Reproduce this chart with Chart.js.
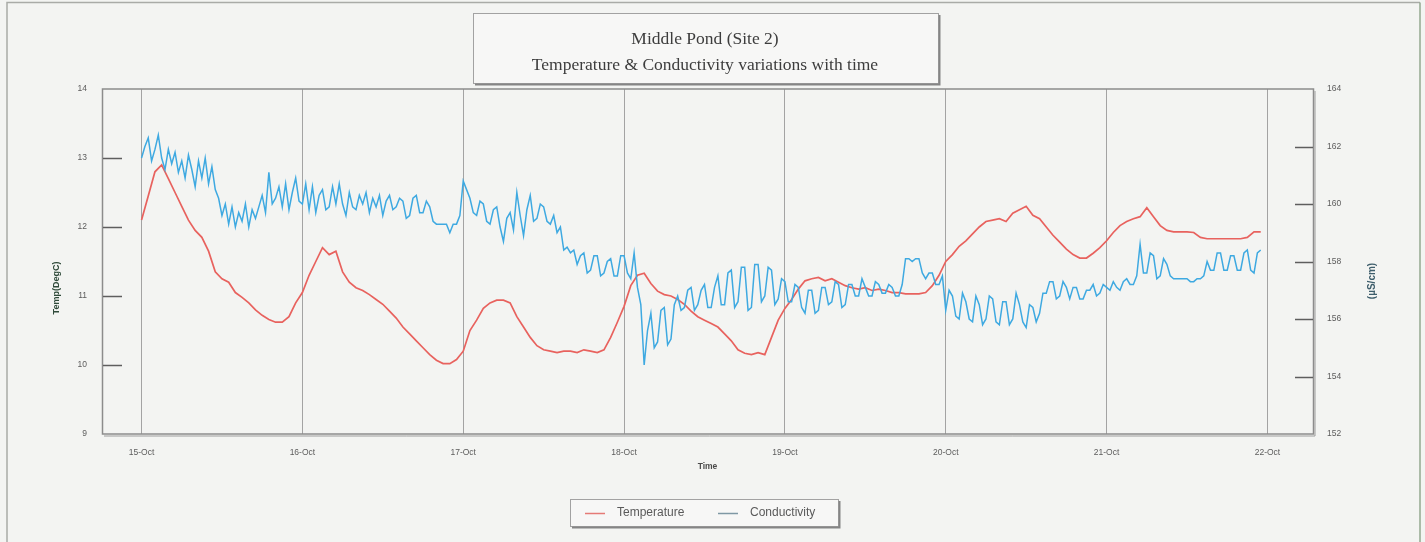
<!DOCTYPE html>
<html>
<head>
<meta charset="utf-8">
<title>Middle Pond (Site 2)</title>
<script src="https://cdn.jsdelivr.net/npm/chart.js@4.4.1/dist/chart.umd.min.js"></script>
<style>
html, body { margin:0; padding:0; background:#f3f4f2; }
#wrap { width:1425px; height:542px; }
</style>
</head>
<body>
<div id="wrap"><canvas id="grafPond" width="1425" height="542"></canvas></div>
<script>
/*======== DATOS =============*/

// readings from 15-Oct 00:00, temperature hourly, conductivity every half hour
const firstHour = 0
const tempStep = 1
const condStep = 0.5

const temperature = [
	12.1, 12.45, 12.8, 12.9, 12.7, 12.5, 12.3, 12.1, 11.95, 11.85,
	11.65, 11.35, 11.25, 11.2, 11.05, 10.98, 10.9, 10.8, 10.72, 10.66,
	10.62, 10.62, 10.7, 10.9, 11.05, 11.3, 11.5, 11.7, 11.6, 11.65,
	11.35, 11.2, 11.12, 11.08, 11.02, 10.95, 10.88, 10.78, 10.68, 10.55,
	10.45, 10.35, 10.25, 10.15, 10.07, 10.02, 10.02, 10.08, 10.2, 10.5,
	10.65, 10.82, 10.9, 10.94, 10.94, 10.9, 10.7, 10.55, 10.4, 10.28,
	10.22, 10.2, 10.18, 10.2, 10.2, 10.18, 10.22, 10.2, 10.18, 10.22,
	10.4, 10.62, 10.85, 11.15, 11.3, 11.33, 11.18, 11.07, 11.02, 11.0,
	10.95, 10.88, 10.78, 10.7, 10.65, 10.6, 10.55, 10.45, 10.35, 10.22,
	10.17, 10.15, 10.18, 10.15, 10.4, 10.65, 10.82, 10.95, 11.1, 11.22,
	11.25, 11.27, 11.22, 11.25, 11.2, 11.15, 11.12, 11.1, 11.12, 11.08,
	11.1, 11.08, 11.05, 11.05, 11.03, 11.03, 11.03, 11.05, 11.15, 11.3,
	11.5, 11.6, 11.72, 11.8, 11.9, 12.0, 12.08, 12.1, 12.12, 12.08,
	12.2, 12.25, 12.3, 12.17, 12.12, 12.0, 11.88, 11.78, 11.68, 11.6,
	11.55, 11.55, 11.62, 11.7, 11.8, 11.92, 12.02, 12.08, 12.12, 12.15,
	12.28, 12.15, 12.02, 11.95, 11.93, 11.93, 11.93, 11.92, 11.85, 11.83,
	11.83, 11.83, 11.83, 11.83, 11.83, 11.85, 11.93, 11.93
]

const conductivity = [
	161.6, 162.0, 162.3, 161.5, 161.9, 162.4, 161.6, 161.2, 161.9, 161.4, 161.8, 161.1,
	161.5, 160.9, 161.7, 161.2, 160.6, 161.5, 160.9, 161.6, 160.7, 161.3, 160.5, 160.2,
	159.6, 160.0, 159.3, 159.9, 159.2, 159.7, 159.4, 160.0, 159.2, 159.8, 159.5, 159.9,
	160.3, 159.7, 161.1, 160.0, 160.2, 160.6, 159.9, 160.7, 159.8, 160.4, 160.9, 160.1,
	160.0, 160.7, 159.8, 160.6, 159.7, 160.3, 160.5, 159.8, 159.9, 160.6, 160.0, 160.7,
	160.0, 159.6, 160.4, 159.9, 159.8, 160.3, 160.0, 160.4, 159.7, 160.2, 159.9, 160.3,
	159.6, 160.1, 160.3, 159.8, 159.9, 160.2, 160.1, 159.5, 159.6, 160.2, 160.3, 159.7,
	159.7, 160.1, 159.9, 159.4, 159.3, 159.3, 159.3, 159.3, 159.0, 159.3, 159.3, 159.6,
	160.8, 160.5, 160.2, 159.7, 159.6, 160.1, 160.0, 159.4, 159.3, 159.8, 159.9, 159.2,
	158.7, 159.5, 159.7, 159.1, 160.4, 159.6, 158.9, 159.8, 160.3, 159.4, 159.5, 160.0,
	159.9, 159.4, 159.3, 159.6, 159.0, 159.2, 158.4, 158.5, 158.3, 158.4, 157.9, 158.2,
	158.3, 157.6, 157.7, 158.2, 158.2, 157.5, 157.6, 158.0, 158.1, 157.5, 157.5, 158.2,
	158.2, 157.6, 157.4, 158.3, 157.1, 156.5, 154.4, 155.6, 156.2, 155.0, 155.2, 156.3,
	156.4, 155.1, 155.3, 156.5, 156.8, 156.3, 156.4, 157.0, 157.1, 156.3, 156.5, 157.0,
	157.2, 156.4, 156.4, 157.1, 157.5, 156.5, 156.5, 157.6, 157.7, 156.4, 156.6, 157.8,
	157.8, 156.3, 156.4, 157.9, 157.9, 156.6, 156.8, 157.8, 157.7, 156.5, 156.7, 157.4,
	157.3, 156.6, 156.6, 157.2, 157.1, 156.4, 156.2, 157.0, 157.0, 156.2, 156.3, 157.1,
	157.1, 156.5, 156.6, 157.3, 157.2, 156.4, 156.5, 157.2, 157.2, 156.8, 156.8, 157.4,
	157.1, 156.8, 156.8, 157.3, 157.2, 156.9, 156.9, 157.2, 157.1, 156.8, 156.8, 157.2,
	158.1, 158.1, 158.0, 158.1, 158.1, 157.6, 157.4, 157.6, 157.6, 157.2, 157.2, 157.5,
	156.3, 157.0, 156.8, 156.1, 156.0, 156.9, 156.6, 156.0, 155.9, 156.8, 156.5, 155.8,
	156.0, 156.8, 156.7, 155.9, 155.8, 156.6, 156.6, 155.8, 156.0, 156.9, 156.5, 155.9,
	155.7, 156.5, 156.4, 155.9, 156.2, 156.9, 156.9, 157.3, 157.3, 156.7, 156.8, 157.3,
	157.1, 156.7, 157.1, 157.1, 156.7, 156.7, 157.0, 157.0, 157.2, 156.8, 156.9, 157.2,
	157.1, 157.0, 157.3, 157.1, 157.0, 157.3, 157.4, 157.2, 157.2, 157.5, 158.6, 157.6,
	157.6, 158.3, 158.2, 157.4, 157.5, 158.1, 157.9, 157.5, 157.4, 157.4, 157.4, 157.4,
	157.4, 157.3, 157.3, 157.4, 157.4, 157.5, 158.0, 157.7, 157.7, 158.3, 158.3, 157.7,
	157.7, 158.2, 158.2, 157.7, 157.7, 158.3, 158.4, 157.7, 157.6, 158.3, 158.4
]

const tickHours = [0, 24, 48, 72, 96, 120, 144, 168]
const dayLabels = ["15-Oct", "16-Oct", "17-Oct", "18-Oct", "19-Oct", "20-Oct", "21-Oct", "22-Oct"]

const titleLines = ["Middle Pond (Site 2)", "Temperature & Conductivity variations with time"]

const toPoints = (vals, step) => vals.map((v, i) => ({x: firstHour + i * step, y: v}))

/*======== DECORACION =============*/

const shadowBox = (ctx, x, y, w, h) => {
	ctx.fillStyle = "#f7f7f6"
	ctx.fillRect(x, y, w, h)
	ctx.strokeStyle = "#a2a2a2"
	ctx.lineWidth = 1
	ctx.strokeRect(x + 0.5, y + 0.5, w, h)
	ctx.strokeStyle = "#858585"
	ctx.lineWidth = 2
	ctx.beginPath()
	ctx.moveTo(x + 2, y + h + 1.5)
	ctx.lineTo(x + w + 1.5, y + h + 1.5)
	ctx.lineTo(x + w + 1.5, y + 2)
	ctx.stroke()
}

const decor = {
	id: "decor",
	beforeDraw(chart){
		const ctx = chart.ctx
		ctx.save()
		ctx.fillStyle = "#f3f4f2"
		ctx.fillRect(0, 0, chart.width, chart.height)
		// outer frame
		ctx.lineWidth = 1.5
		ctx.strokeStyle = "#a9aba7"
		ctx.beginPath()
		ctx.moveTo(7, 545); ctx.lineTo(7, 2.5); ctx.lineTo(1420, 2.5)
		ctx.stroke()
		ctx.strokeStyle = "#93a88f"
		ctx.beginPath()
		ctx.moveTo(1420, 2.5); ctx.lineTo(1420, 545)
		ctx.stroke()
		// title box
		shadowBox(ctx, 473, 13, 465, 70)
		ctx.fillStyle = "#3d3d3d"
		ctx.textAlign = "center"
		ctx.textBaseline = "middle"
		ctx.font = "17.5px 'Liberation Serif', 'DejaVu Serif', serif"
		ctx.fillText(titleLines[0], 705, 39)
		ctx.fillText(titleLines[1], 705, 65)
		ctx.restore()
	},
	afterDraw(chart){
		const ctx = chart.ctx
		const a = chart.chartArea
		const yL = chart.scales.y, yR = chart.scales.y1
		ctx.save()
		// plot border
		ctx.strokeStyle = "#8c8c8c"
		ctx.lineWidth = 1.5
		ctx.strokeRect(a.left + 0.5, a.top, a.right - a.left, a.bottom - a.top)
		ctx.strokeStyle = "#9c9c9c"
		ctx.lineWidth = 1
		ctx.beginPath()
		ctx.moveTo(a.left + 2, a.bottom + 2); ctx.lineTo(a.right + 2, a.bottom + 2); ctx.lineTo(a.right + 2, a.top + 2)
		ctx.stroke()
		// inner tick marks
		ctx.strokeStyle = "#5e5e5e"
		ctx.lineWidth = 1.5
		yL.ticks.forEach(t => {
			if(t.value > yL.min && t.value < yL.max){
				const py = Math.round(yL.getPixelForValue(t.value)) + 0.5
				ctx.beginPath(); ctx.moveTo(a.left + 1, py); ctx.lineTo(a.left + 20, py); ctx.stroke()
			}
		})
		yR.ticks.forEach(t => {
			if(t.value > yR.min && t.value < yR.max){
				const py = Math.round(yR.getPixelForValue(t.value)) + 0.5
				ctx.beginPath(); ctx.moveTo(a.right - 18, py); ctx.lineTo(a.right, py); ctx.stroke()
			}
		})
		// axis titles
		ctx.font = "bold 9px 'Liberation Sans', Arial, sans-serif"
		ctx.textAlign = "center"
		ctx.textBaseline = "middle"
		ctx.fillStyle = "#2f4a3a"
		ctx.save(); ctx.translate(57, 288); ctx.rotate(-Math.PI / 2); ctx.fillText("Temp(DegC)", 0, 0); ctx.restore()
		ctx.fillStyle = "#3e5e6c"
		ctx.save(); ctx.translate(1372, 281); ctx.rotate(-Math.PI / 2); ctx.font = "bold 10px 'Liberation Sans', Arial, sans-serif"; ctx.fillText("(µS/cm)", 0, 0); ctx.restore()
		ctx.fillStyle = "#4a4a4a"
		ctx.font = "bold 8.5px 'Liberation Sans', Arial, sans-serif"
		ctx.fillText("Time", (a.left + a.right) / 2, 467)
		// legend
		shadowBox(ctx, 570, 499, 268, 27)
		const ds = chart.data.datasets
		const items = [[585, 617], [718, 750]]
		ctx.font = "12px 'Liberation Sans', Arial, sans-serif"
		ctx.textAlign = "left"
		ds.forEach((d, i) => {
			ctx.strokeStyle = d.legendColor
			ctx.lineWidth = 1.5
			ctx.beginPath(); ctx.moveTo(items[i][0], 513.5); ctx.lineTo(items[i][0] + 20, 513.5); ctx.stroke()
			ctx.fillStyle = "#5a5a5a"
			ctx.fillText(d.label, items[i][1], 513)
		})
		ctx.restore()
	}
}

/*======== GRAFICA =============*/

const tickFont = {size: 8.5, family: "'Liberation Sans', Arial, sans-serif"}

new Chart(document.getElementById("grafPond"), {
	type: "line",
	data: {
		datasets: [{
			label: "Temperature",
			data: toPoints(temperature, tempStep),
			borderColor: "#e8625e",
			legendColor: "#e57a76",
			borderWidth: 1.7,
			pointRadius: 0,
			tension: 0,
			yAxisID: "y",
			order: 2
		}, {
			label: "Conductivity",
			data: toPoints(conductivity, condStep),
			borderColor: "#3ea9e1",
			legendColor: "#7f98a4",
			borderWidth: 1.5,
			pointRadius: 0,
			tension: 0,
			yAxisID: "y1",
			order: 1
		}]
	},
	options: {
		responsive: false,
		animation: false,
		devicePixelRatio: 1,
		layout: {padding: {top: 89, left: 0, right: 0, bottom: 0}},
		plugins: {legend: {display: false}, tooltip: {enabled: false}},
		scales: {
			x: {
				type: "linear",
				min: -5.9,
				max: 174.8,
				afterBuildTicks: s => { s.ticks = tickHours.map(v => ({value: v})) },
				afterFit: s => { s.height = 108 },
				ticks: {
					callback: (v, i) => dayLabels[i],
					font: tickFont, color: "#5c5c5c", padding: 14,
					maxRotation: 0, autoSkip: false
				},
				grid: {color: "#a3a3a3", lineWidth: 1, drawTicks: false},
				border: {display: false}
			},
			y: {
				position: "left",
				min: 9, max: 14,
				afterFit: s => { s.width = 102 },
				ticks: {stepSize: 1, font: tickFont, color: "#5c5c5c", padding: 15},
				grid: {display: false, drawTicks: false},
				border: {display: false}
			},
			y1: {
				position: "right",
				min: 152, max: 164,
				afterFit: s => { s.width = 112 },
				ticks: {stepSize: 2, font: tickFont, color: "#5c5c5c", padding: 14},
				grid: {display: false, drawTicks: false},
				border: {display: false}
			}
		}
	},
	plugins: [decor]
})
</script>
</body>
</html>
